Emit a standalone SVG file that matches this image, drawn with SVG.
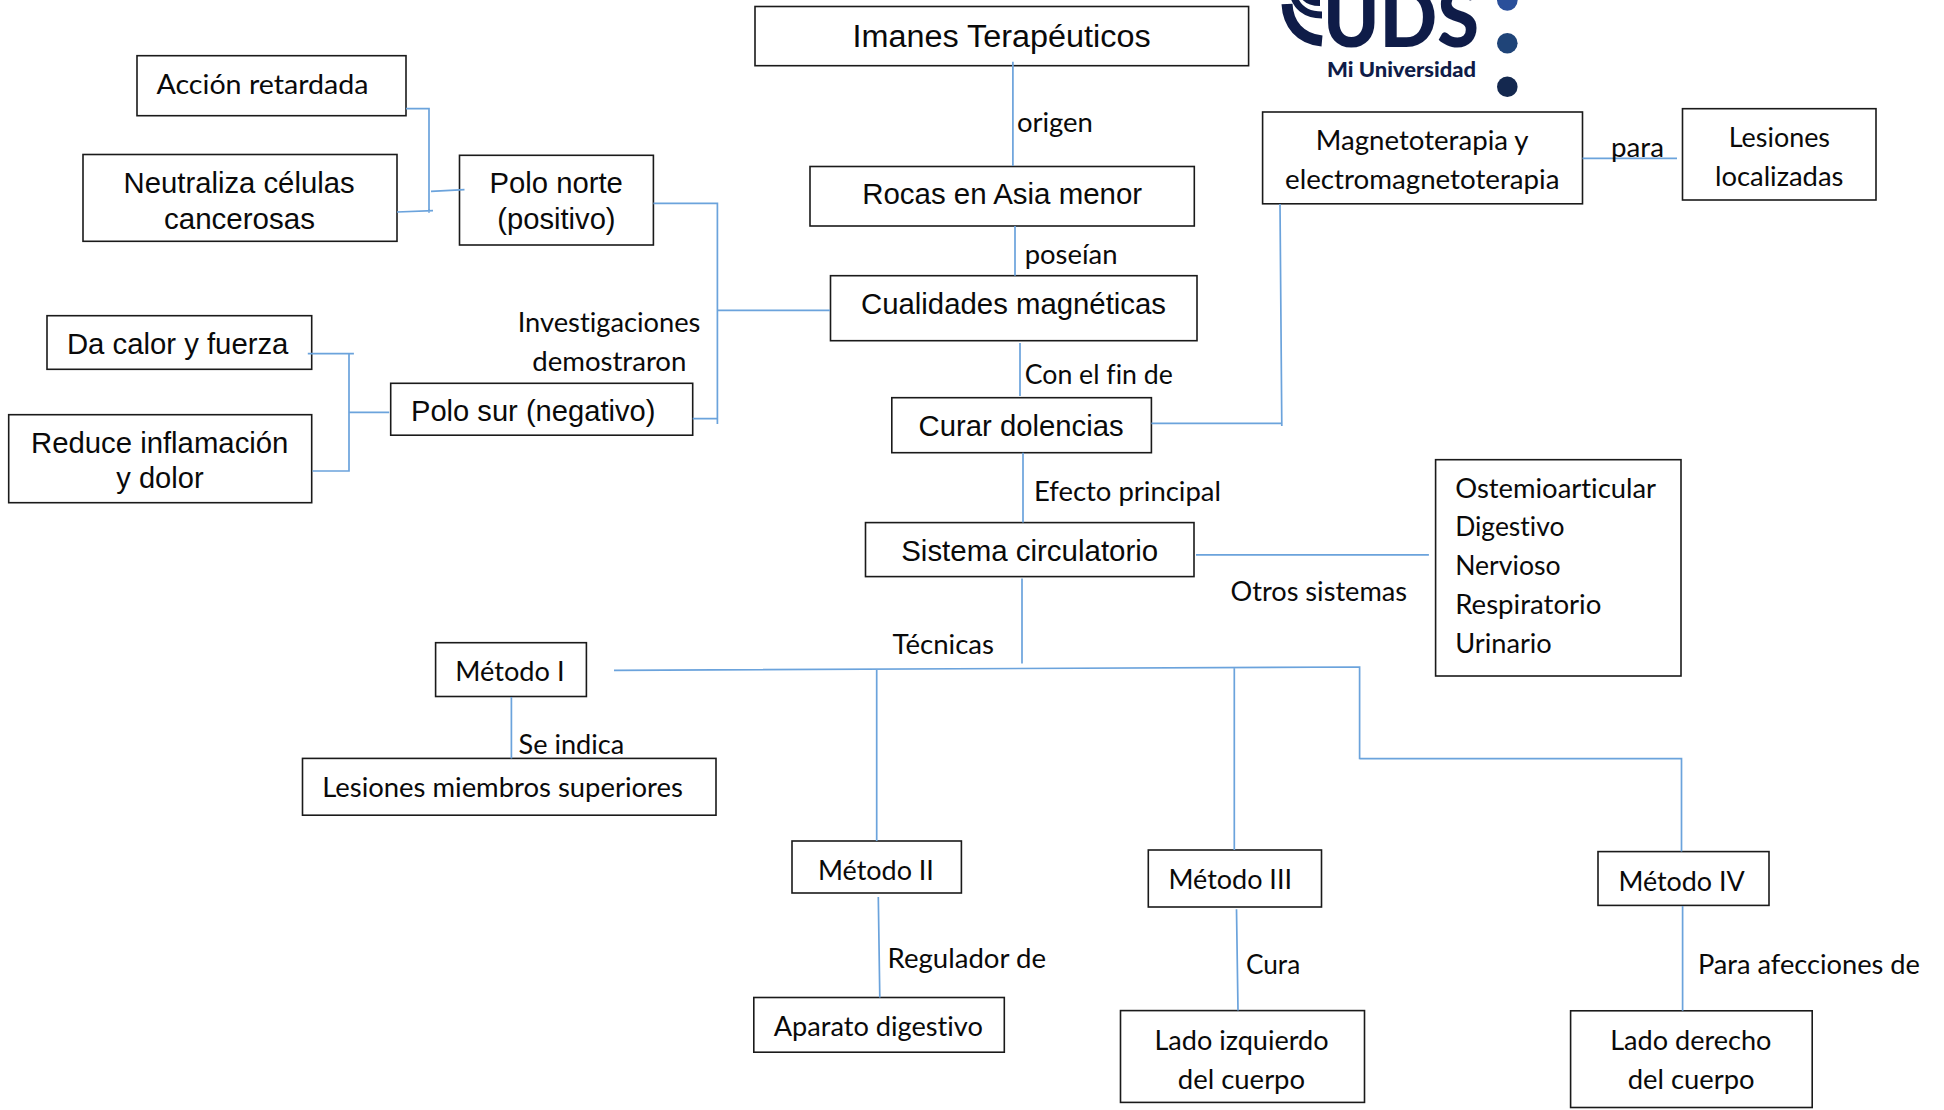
<svg xmlns="http://www.w3.org/2000/svg" width="1944" height="1110" viewBox="0 0 1944 1110">
<style>
rect{fill:#fff;stroke:#1a1a1a;stroke-width:1.6}
text{fill:#0a0a0a;font-variant-ligatures:none}
.a{font-family:"Liberation Sans",Arial,sans-serif;font-size:29px}
.c{font-family:Lato,"Open Sans",sans-serif;font-size:26px}
#connectors path{fill:none;stroke:#6ba3dc;stroke-width:1.7}
#logo text{fill:#0f1c48;font-family:Lato,"Open Sans",sans-serif;font-weight:900}
#logo path{fill:none;stroke:#0f1c48}
</style>
<g id="logo">
<path d="M1320 3C1308 3 1303 -3 1301 -8" stroke-width="6"/>
<path d="M1322 15C1305 15 1296 6 1293 -6" stroke-width="7"/>
<path d="M1322 41C1300 39 1288 24 1287 4" stroke-width="11"/>
<text x="1323" y="46.7" font-size="82" textLength="156" lengthAdjust="spacingAndGlyphs">UDS</text>
<text x="1327" y="76.7" font-size="20" textLength="149" lengthAdjust="spacingAndGlyphs">Mi Universidad</text>
<circle cx="1507.3" cy="0.5" r="10.3" fill="#2a4f9a"/>
<circle cx="1507.3" cy="43.3" r="10.3" fill="#1f4478"/>
<circle cx="1507.3" cy="86.7" r="10.3" fill="#14284f"/>
</g>
<g id="n-imanes"><rect x="755" y="6.5" width="493.6" height="59.2"/><text class="a" x="852.6" y="46.7" style="font-size:31px" textLength="298" lengthAdjust="spacingAndGlyphs">Imanes Terapéuticos</text></g>
<g id="n-rocas"><rect x="810" y="166.5" width="384.3" height="59.5"/><text class="a" x="862.2" y="204.3" textLength="280" lengthAdjust="spacingAndGlyphs">Rocas en Asia menor</text></g>
<g id="n-cualidades"><rect x="830.5" y="275.7" width="366.5" height="65"/><text class="a" x="861" y="314.3" textLength="305" lengthAdjust="spacingAndGlyphs">Cualidades magnéticas</text></g>
<g id="n-curar"><rect x="891.8" y="397.7" width="259.6" height="55"/><text class="a" x="918.6" y="436" textLength="205" lengthAdjust="spacingAndGlyphs">Curar dolencias</text></g>
<g id="n-sistema"><rect x="865.5" y="522.6" width="328.5" height="54"/><text class="a" x="901.2" y="561" textLength="257" lengthAdjust="spacingAndGlyphs">Sistema circulatorio</text></g>
<g id="n-accion"><rect x="137" y="55.7" width="269" height="60"/><text class="c" x="156.5" y="94.3" textLength="212" lengthAdjust="spacingAndGlyphs">Acción retardada</text></g>
<g id="n-neutraliza"><rect x="83" y="154.5" width="314" height="86.8"/><text class="a" x="123.6" y="192.7" textLength="231" lengthAdjust="spacingAndGlyphs">Neutraliza células</text><text class="a" x="164" y="229" textLength="151" lengthAdjust="spacingAndGlyphs">cancerosas</text></g>
<g id="n-polonorte"><rect x="459.5" y="155.3" width="193.9" height="89.7"/><text class="a" x="489.5" y="192.7" textLength="133.4" lengthAdjust="spacingAndGlyphs">Polo norte</text><text class="a" x="497.3" y="229" textLength="118.3" lengthAdjust="spacingAndGlyphs">(positivo)</text></g>
<g id="n-calor"><rect x="47" y="315.7" width="264.7" height="53.6"/><text class="a" x="66.9" y="354" textLength="221.5" lengthAdjust="spacingAndGlyphs">Da calor y fuerza</text></g>
<g id="n-reduce"><rect x="8.7" y="414.7" width="303" height="88"/><text class="a" x="31" y="452.7" textLength="257.4" lengthAdjust="spacingAndGlyphs">Reduce inflamación</text><text class="a" x="116.3" y="488.3" textLength="87.3" lengthAdjust="spacingAndGlyphs">y dolor</text></g>
<g id="n-polosur"><rect x="390.7" y="383.3" width="302" height="51.9"/><text class="a" x="411" y="420.8" textLength="244.4" lengthAdjust="spacingAndGlyphs">Polo sur (negativo)</text></g>
<g id="n-magneto"><rect x="1262.6" y="112" width="319.9" height="91.8"/><text class="c" x="1315.8" y="150" textLength="212.8" lengthAdjust="spacingAndGlyphs">Magnetoterapia y</text><text class="c" x="1285" y="188.8" textLength="274.5" lengthAdjust="spacingAndGlyphs">electromagnetoterapia</text></g>
<g id="n-localizadas"><rect x="1682.5" y="108.7" width="193.5" height="91.3"/><text class="c" x="1728.8" y="147" textLength="101.2" lengthAdjust="spacingAndGlyphs">Lesiones</text><text class="c" x="1715" y="186.2" textLength="128.4" lengthAdjust="spacingAndGlyphs">localizadas</text></g>
<g id="n-sistemas"><rect x="1435.6" y="459.7" width="245.4" height="216.3"/><text class="c" x="1455.2" y="498" textLength="200.9" lengthAdjust="spacingAndGlyphs">Ostemioarticular</text><text class="c" x="1455.2" y="536.4" textLength="109.2" lengthAdjust="spacingAndGlyphs">Digestivo</text><text class="c" x="1455.2" y="574.8" textLength="105.4" lengthAdjust="spacingAndGlyphs">Nervioso</text><text class="c" x="1455.2" y="613.9" textLength="146.2" lengthAdjust="spacingAndGlyphs">Respiratorio</text><text class="c" x="1455.2" y="653" textLength="96.6" lengthAdjust="spacingAndGlyphs">Urinario</text></g>
<g id="n-metodo1"><rect x="435.6" y="642.7" width="150.8" height="53.8"/><text class="c" x="455.3" y="680.9" textLength="109.2" lengthAdjust="spacingAndGlyphs">Método I</text></g>
<g id="n-miembros"><rect x="302.5" y="758.4" width="413.5" height="56.8"/><text class="c" x="322.2" y="797" textLength="360.7" lengthAdjust="spacingAndGlyphs">Lesiones miembros superiores</text></g>
<g id="n-metodo2"><rect x="792" y="841" width="169.4" height="52"/><text class="c" x="818" y="880" textLength="115.9" lengthAdjust="spacingAndGlyphs">Método II</text></g>
<g id="n-aparato"><rect x="753.8" y="997.5" width="250.5" height="54.7"/><text class="c" x="773.7" y="1036" textLength="209.2" lengthAdjust="spacingAndGlyphs">Aparato digestivo</text></g>
<g id="n-metodo3"><rect x="1148.3" y="850" width="173.2" height="57"/><text class="c" x="1168.5" y="888.7" textLength="123.5" lengthAdjust="spacingAndGlyphs">Método III</text></g>
<g id="n-izquierdo"><rect x="1120.5" y="1010.6" width="244" height="91.8"/><text class="c" x="1154.4" y="1049.6" textLength="174.2" lengthAdjust="spacingAndGlyphs">Lado izquierdo</text><text class="c" x="1177.8" y="1088.6" textLength="127.3" lengthAdjust="spacingAndGlyphs">del cuerpo</text></g>
<g id="n-metodo4"><rect x="1598" y="851.6" width="171" height="53.8"/><text class="c" x="1618.4" y="890.7" textLength="126.3" lengthAdjust="spacingAndGlyphs">Método IV</text></g>
<g id="n-derecho"><rect x="1570.6" y="1010.8" width="241.6" height="96.7"/><text class="c" x="1610.2" y="1049.6" textLength="161.2" lengthAdjust="spacingAndGlyphs">Lado derecho</text><text class="c" x="1627.7" y="1088.6" textLength="126.8" lengthAdjust="spacingAndGlyphs">del cuerpo</text></g>
<g id="connectors">
<path d="M406 108.7H429V212.7M397 212L433 210.7M431 191.3L464.5 189.7"/>
<path d="M653.4 203.3H717.4V424M692.7 418.7H717.4M717.4 310.3H830"/>
<path d="M307.8 353.7H353.9M349 353.7V471H312.6M349 412.3H389.2"/>
<path d="M1012.9 61.7V166M1015 226V275.7M1020 343V396M1023 452.7V522.6"/>
<path d="M1151.4 423.3H1281.8M1280 204L1281.8 426M1582.5 158.3H1677"/>
<path d="M1196 554.9H1428.9M1022 578.4V663.6"/>
<path d="M614 670.3L1359.6 667V759.3M876.7 669.6V841M1234.3 667.5V850M1359.6 758.7H1681.5V851.6"/>
<path d="M511.4 697V758.4M878.3 897L879.8 997.5M1236.5 909.3L1238 1010.6M1682.6 906V1010.8"/>
</g>
<g id="labels">
<text class="c" x="1016.9" y="131.7" textLength="76" lengthAdjust="spacingAndGlyphs">origen</text>
<text class="c" x="1024.7" y="264.3" textLength="92.8" lengthAdjust="spacingAndGlyphs">poseían</text>
<text class="c" x="1024.7" y="384.3" textLength="148.2" lengthAdjust="spacingAndGlyphs">Con el fin de</text>
<text class="c" x="1034" y="501" textLength="187" lengthAdjust="spacingAndGlyphs">Efecto principal</text>
<text class="c" x="1230.5" y="601.4" textLength="176.5" lengthAdjust="spacingAndGlyphs">Otros sistemas</text>
<text class="c" x="892.6" y="653.6" textLength="101.4" lengthAdjust="spacingAndGlyphs">Técnicas</text>
<text class="c" x="518.6" y="754" textLength="105.6" lengthAdjust="spacingAndGlyphs">Se indica</text>
<text class="c" x="887.5" y="967.6" textLength="158.5" lengthAdjust="spacingAndGlyphs">Regulador de</text>
<text class="c" x="1245.9" y="973.6" textLength="54.3" lengthAdjust="spacingAndGlyphs">Cura</text>
<text class="c" x="1697.9" y="973.6" textLength="222.1" lengthAdjust="spacingAndGlyphs">Para afecciones de</text>
<text class="c" x="1611" y="156.8" textLength="53" lengthAdjust="spacingAndGlyphs">para</text>
<text class="c" x="517.7" y="331.7" textLength="182.7" lengthAdjust="spacingAndGlyphs">Investigaciones</text>
<text class="c" x="532.2" y="371" textLength="154.2" lengthAdjust="spacingAndGlyphs">demostraron</text>
</g>
</svg>
